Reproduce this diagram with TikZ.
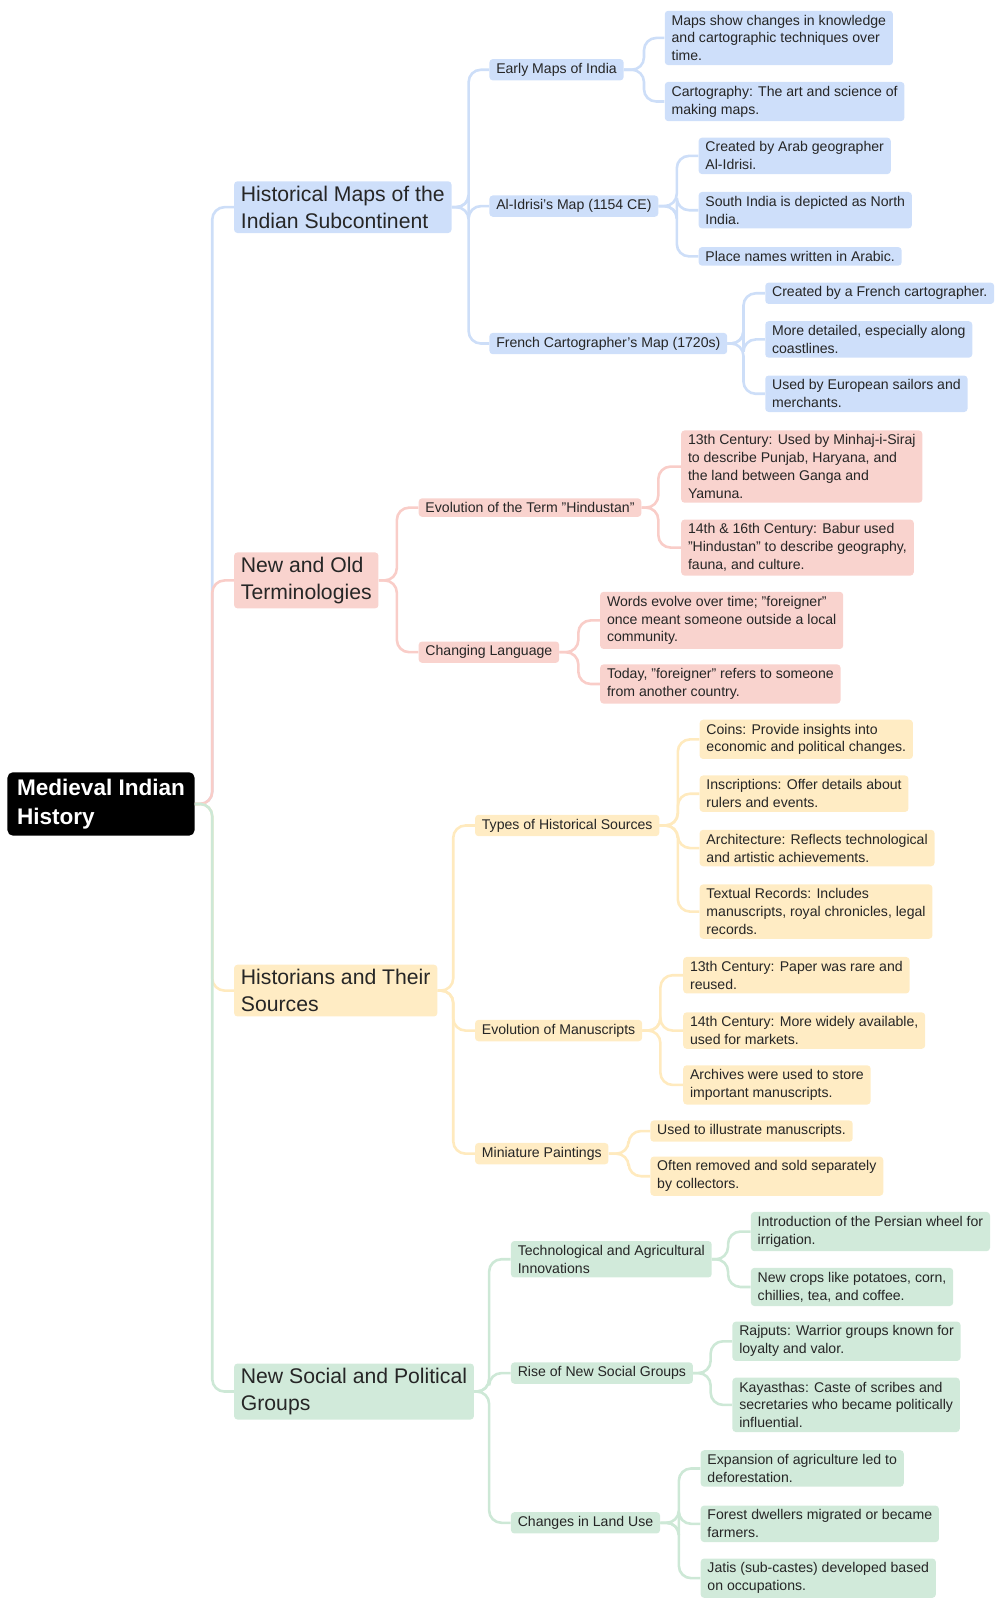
\documentclass[tikz,border=0pt]{standalone}
\usepackage{fontspec}
\setmainfont{Liberation Sans}
\begin{document}
\definecolor{bF}{RGB}{206,223,250}\definecolor{bL}{RGB}{205,222,248}
\definecolor{rF}{RGB}{249,211,206}\definecolor{rL}{RGB}{249,205,200}
\definecolor{yF}{RGB}{255,236,196}\definecolor{yL}{RGB}{255,234,190}
\definecolor{gF}{RGB}{209,234,218}\definecolor{gL}{RGB}{205,232,214}
\begin{tikzpicture}[x=0.75pt,y=-0.75pt,
 box/.style={anchor=west,align=left,rounded corners=2.5pt,inner xsep=5pt,inner ysep=3pt,font=\fontsize{10.3}{13.1}\selectfont,text=black!85},
 l1/.style={box,font=\fontsize{15.5}{19.5}\selectfont,inner ysep=3.5pt},
 bb/.style={fill=bF},rb/.style={fill=rF},yb/.style={fill=yF},gb/.style={fill=gF},
 c/.style={line width=1.9pt,rounded corners=9pt}]
\useasboundingbox (0,0) rectangle (975,1572);
\node[anchor=west,fill=black,text=white,rounded corners=4pt,align=left,inner xsep=7pt,inner ysep=5pt,font=\bfseries\fontsize{16.5}{21}\selectfont,minimum width=134pt] (root) at (7,784) {Medieval Indian\\History};
% level 1
\node[l1,bb] (A) at (228,202) {Historical Maps of the\\Indian Subcontinent};
\node[l1,rb] (B) at (228,566) {New and Old\\Terminologies};
\node[l1,yb] (C) at (228,966) {Historians and Their\\Sources};
\node[l1,gb] (D) at (228,1357) {New Social and Political\\Groups};
% blue
\node[box,bb] (A1) at (477,68) {Early Maps of India};
\node[box,bb] (A2) at (477,201) {Al-Idrisi's Map (1154 CE)};
\node[box,bb] (A3) at (477,335) {French Cartographer's Map (1720s)};
\node[box,bb] (A11) at (648,37) {Maps show changes in knowledge\\and cartographic techniques over\\time.};
\node[box,bb] (A12) at (648,99) {Cartography: The art and science of\\making maps.};
\node[box,bb] (A21) at (681,152) {Created by Arab geographer\\Al-Idrisi.};
\node[box,bb] (A22) at (681,205) {South India is depicted as North\\India.};
\node[box,bb] (A23) at (681,250) {Place names written in Arabic.};
\node[box,bb] (A31) at (746,286) {Created by a French cartographer.};
\node[box,bb] (A32) at (746,331) {More detailed, especially along\\coastlines.};
\node[box,bb] (A33) at (746,384) {Used by European sailors and\\merchants.};
% red
\node[box,rb] (B1) at (408,495) {Evolution of the Term "Hindustan"};
\node[box,rb] (B2) at (408,636) {Changing Language};
\node[box,rb] (B11) at (664,455) {13th Century: Used by Minhaj-i-Siraj\\to describe Punjab, Haryana, and\\the land between Ganga and\\Yamuna.};
\node[box,rb] (B12) at (664,534) {14th \& 16th Century: Babur used\\"Hindustan" to describe geography,\\fauna, and culture.};
\node[box,rb] (B21) at (585,605) {Words evolve over time; "foreigner"\\once meant someone outside a local\\community.};
\node[box,rb] (B22) at (585,667) {Today, "foreigner" refers to someone\\from another country.};
% yellow
\node[box,yb] (C1) at (463,805) {Types of Historical Sources};
\node[box,yb] (C2) at (463,1005) {Evolution of Manuscripts};
\node[box,yb] (C3) at (463,1125) {Miniature Paintings};
\node[box,yb] (C11) at (682,721) {Coins: Provide insights into\\economic and political changes.};
\node[box,yb] (C12) at (682,774) {Inscriptions: Offer details about\\rulers and events.};
\node[box,yb] (C13) at (682,827) {Architecture: Reflects technological\\and artistic achievements.};
\node[box,yb] (C14) at (682,889) {Textual Records: Includes\\manuscripts, royal chronicles, legal\\records.};
\node[box,yb] (C21) at (666,951) {13th Century: Paper was rare and\\reused.};
\node[box,yb] (C22) at (666,1005) {14th Century: More widely available,\\used for markets.};
\node[box,yb] (C23) at (666,1058) {Archives were used to store\\important manuscripts.};
\node[box,yb] (C31) at (634,1103) {Used to illustrate manuscripts.};
\node[box,yb] (C32) at (634,1147) {Often removed and sold separately\\by collectors.};
% green
\node[box,gb] (D1) at (498,1228) {Technological and Agricultural\\Innovations};
\node[box,gb] (D2) at (498,1339) {Rise of New Social Groups};
\node[box,gb] (D3) at (498,1485) {Changes in Land Use};
\node[box,gb] (D11) at (732,1201) {Introduction of the Persian wheel for\\irrigation.};
\node[box,gb] (D12) at (732,1255) {New crops like potatoes, corn,\\chillies, tea, and coffee.};
\node[box,gb] (D21) at (714,1308) {Rajputs: Warrior groups known for\\loyalty and valor.};
\node[box,gb] (D22) at (714,1370) {Kayasthas: Caste of scribes and\\secretaries who became politically\\influential.};
\node[box,gb] (D31) at (683,1432) {Expansion of agriculture led to\\deforestation.};
\node[box,gb] (D32) at (683,1486) {Forest dwellers migrated or became\\farmers.};
\node[box,gb] (D33) at (683,1539) {Jatis (sub-castes) developed based\\on occupations.};
% connectors
\begin{scope}[on background layer/.try]
\coordinate (t0) at (207,0);
\draw[c,bL] (root.east) -- (root.east -| t0) |- (A.west);
\draw[c,rL] (root.east) -- (root.east -| t0) |- (B.west);
\draw[c,yL] (root.east) -- (root.east -| t0) |- (C.west);
\draw[c,gL] (root.east) -- (root.east -| t0) |- (D.west);
\coordinate (tA) at (457,0);
\foreach \n in {A1,A2,A3}{\draw[c,bL] (A.east) -- (A.east -| tA) |- (\n.west);}
\coordinate (tA1) at (628,0);
\foreach \n in {A11,A12}{\draw[c,bL] (A1.east) -- (A1.east -| tA1) |- (\n.west);}
\coordinate (tA2) at (660,0);
\foreach \n in {A21,A22,A23}{\draw[c,bL] (A2.east) -- (A2.east -| tA2) |- (\n.west);}
\coordinate (tA3) at (725,0);
\foreach \n in {A31,A32,A33}{\draw[c,bL] (A3.east) -- (A3.east -| tA3) |- (\n.west);}
\coordinate (tB) at (387,0);
\foreach \n in {B1,B2}{\draw[c,rL] (B.east) -- (B.east -| tB) |- (\n.west);}
\coordinate (tB1) at (642,0);
\foreach \n in {B11,B12}{\draw[c,rL] (B1.east) -- (B1.east -| tB1) |- (\n.west);}
\coordinate (tB2) at (564,0);
\foreach \n in {B21,B22}{\draw[c,rL] (B2.east) -- (B2.east -| tB2) |- (\n.west);}
\coordinate (tC) at (442,0);
\foreach \n in {C1,C2,C3}{\draw[c,yL] (C.east) -- (C.east -| tC) |- (\n.west);}
\coordinate (tC1) at (661,0);
\foreach \n in {C11,C12,C13,C14}{\draw[c,yL] (C1.east) -- (C1.east -| tC1) |- (\n.west);}
\coordinate (tC2) at (644,0);
\foreach \n in {C21,C22,C23}{\draw[c,yL] (C2.east) -- (C2.east -| tC2) |- (\n.west);}
\coordinate (tC3) at (613,0);
\foreach \n in {C31,C32}{\draw[c,yL] (C3.east) -- (C3.east -| tC3) |- (\n.west);}
\coordinate (tD) at (477,0);
\foreach \n in {D1,D2,D3}{\draw[c,gL] (D.east) -- (D.east -| tD) |- (\n.west);}
\coordinate (tD1) at (710,0);
\foreach \n in {D11,D12}{\draw[c,gL] (D1.east) -- (D1.east -| tD1) |- (\n.west);}
\coordinate (tD2) at (693,0);
\foreach \n in {D21,D22}{\draw[c,gL] (D2.east) -- (D2.east -| tD2) |- (\n.west);}
\coordinate (tD3) at (662,0);
\foreach \n in {D31,D32,D33}{\draw[c,gL] (D3.east) -- (D3.east -| tD3) |- (\n.west);}
\end{scope}
\end{tikzpicture}
\end{document}
